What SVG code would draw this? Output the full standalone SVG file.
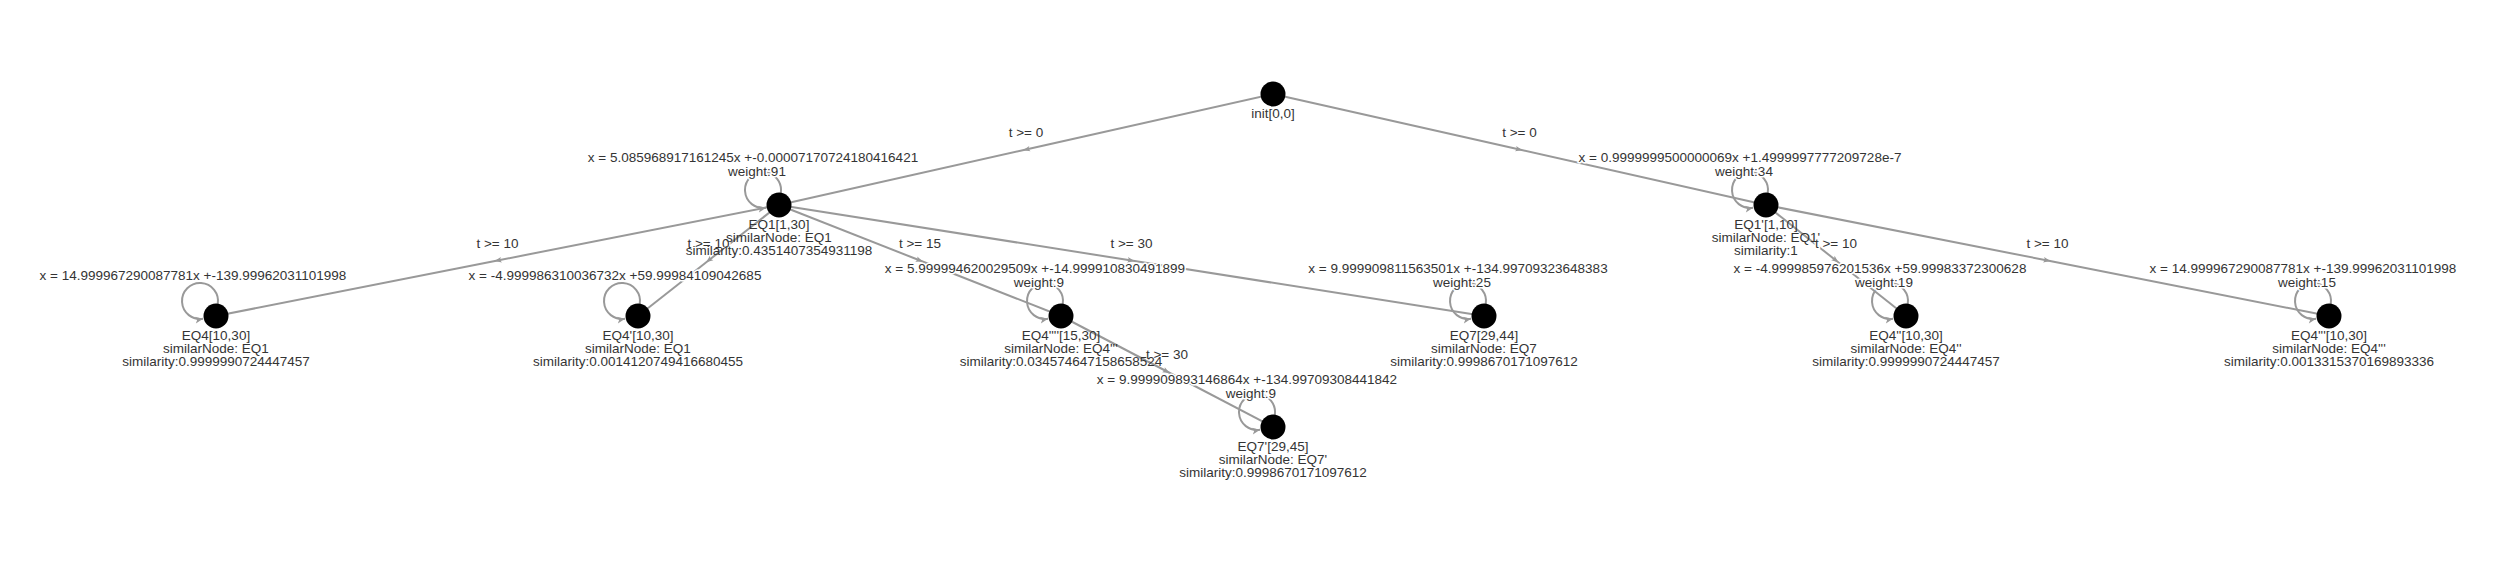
<svg xmlns="http://www.w3.org/2000/svg" width="2500" height="562" viewBox="0 0 2500 562">
<style>
  .bg{fill:#ffffff}
  .edge{fill:none;stroke:#999999;stroke-width:2;marker-mid:url(#mid)}
  .loop{fill:none;stroke:#999999;stroke-width:2;marker-end:url(#arr)}
  .node{fill:#000000}
  text{font-family:"Liberation Sans",Arial,sans-serif;font-size:13.5px;fill:#343434;text-anchor:middle}
  .el{stroke:#ffffff;stroke-width:3;paint-order:stroke;stroke-linejoin:round}
</style>
<defs>
  <marker id="mid" markerUnits="userSpaceOnUse" viewBox="-6 -5 12 10" markerWidth="12" markerHeight="10" refX="0" refY="0" orient="auto">
    <path d="M3,0 L-4,-2.8 L-2.5,0 L-4,2.8 z" fill="#999999"/>
  </marker>
  <marker id="arr" markerUnits="userSpaceOnUse" viewBox="-10 -5 12 10" markerWidth="12" markerHeight="10" refX="0" refY="0" orient="auto">
    <path d="M0,0 L-8,-3.5 L-6,0 L-8,3.5 z" fill="#999999"/>
  </marker>
</defs>
<rect class="bg" x="0" y="0" width="2500" height="562"/>
<g id="connectors">
  <path class="edge" d="M1273,94 L1026,149.5 L779,205"/>
  <path class="edge" d="M1273,94 L1519.5,149.5 L1766,205"/>
  <path class="edge" d="M779,205 L497.5,260.5 L216,316"/>
  <path class="edge" d="M779,205 L708.5,260.5 L638,316"/>
  <path class="edge" d="M779,205 L920,260.5 L1061,316"/>
  <path class="edge" d="M779,205 L1131.5,260.5 L1484,316"/>
  <path class="edge" d="M1061,316 L1167,371.5 L1273,427"/>
  <path class="edge" d="M1766,205 L1836,260.5 L1906,316"/>
  <path class="edge" d="M1766,205 L2047.5,260.5 L2329,316"/>
  <text class="el" x="1026" y="136.5">t &gt;= 0</text>
  <text class="el" x="1519.5" y="136.5">t &gt;= 0</text>
  <text class="el" x="497.5" y="247.5">t &gt;= 10</text>
  <text class="el" x="708.5" y="247.5">t &gt;= 10</text>
  <text class="el" x="920" y="247.5">t &gt;= 15</text>
  <text class="el" x="1131.5" y="247.5">t &gt;= 30</text>
  <text class="el" x="1167" y="358.5">t &gt;= 30</text>
  <text class="el" x="1836" y="247.5">t &gt;= 10</text>
  <text class="el" x="2047.5" y="247.5">t &gt;= 10</text>

  <path class="loop" d="M780.73,193.13 A18,18 0 1 0 766.13,207.73"/>
  <path class="loop" d="M1767.73,193.13 A18,18 0 1 0 1753.13,207.73"/>
  <path class="loop" d="M217.73,304.13 A18,18 0 1 0 203.13,318.73"/>
  <path class="loop" d="M639.73,304.13 A18,18 0 1 0 625.13,318.73"/>
  <path class="loop" d="M1062.73,304.13 A18,18 0 1 0 1048.13,318.73"/>
  <path class="loop" d="M1485.73,304.13 A18,18 0 1 0 1471.13,318.73"/>
  <path class="loop" d="M1907.73,304.13 A18,18 0 1 0 1893.13,318.73"/>
  <path class="loop" d="M2330.73,304.13 A18,18 0 1 0 2316.13,318.73"/>
  <path class="loop" d="M1274.73,415.13 A18,18 0 1 0 1260.13,429.73"/>

  <text class="el" x="753" y="161.5">x = 5.085968917161245x +-0.00007170724180416421</text>
  <text class="el" x="757" y="175.5">weight:91</text>
  <text class="el" x="1740" y="161.5">x = 0.9999999500000069x +1.4999997777209728e-7</text>
  <text class="el" x="1744" y="175.5">weight:34</text>
  <text class="el" x="193" y="280">x = 14.999967290087781x +-139.99962031101998</text>
  <text class="el" x="615" y="280">x = -4.999986310036732x +59.99984109042685</text>
  <text class="el" x="1035" y="272.5">x = 5.999994620029509x +-14.999910830491899</text>
  <text class="el" x="1039" y="286.5">weight:9</text>
  <text class="el" x="1458" y="272.5">x = 9.999909811563501x +-134.99709323648383</text>
  <text class="el" x="1462" y="286.5">weight:25</text>
  <text class="el" x="1880" y="272.5">x = -4.999985976201536x +59.99983372300628</text>
  <text class="el" x="1884" y="286.5">weight:19</text>
  <text class="el" x="2303" y="272.5">x = 14.999967290087781x +-139.99962031101998</text>
  <text class="el" x="2307" y="286.5">weight:15</text>
  <text class="el" x="1247" y="383.5">x = 9.999909893146864x +-134.99709308441842</text>
  <text class="el" x="1251" y="397.5">weight:9</text>
</g>
<g id="init">
  <circle class="node" cx="1273" cy="94" r="12.5"/>
  <text x="1273" y="118">init[0,0]</text>
</g>
<g id="EQ1">
  <circle class="node" cx="779" cy="205" r="12.5"/>
  <text x="779" y="229">EQ1[1,30]</text>
  <text x="779" y="242">similarNode: EQ1</text>
  <text x="779" y="255">similarity:0.4351407354931198</text>
</g>
<g id="EQ1p">
  <circle class="node" cx="1766" cy="205" r="12.5"/>
  <text x="1766" y="229">EQ1'[1,10]</text>
  <text x="1766" y="242">similarNode: EQ1'</text>
  <text x="1766" y="255">similarity:1</text>
</g>
<g id="EQ4">
  <circle class="node" cx="216" cy="316" r="12.5"/>
  <text x="216" y="340">EQ4[10,30]</text>
  <text x="216" y="353">similarNode: EQ1</text>
  <text x="216" y="366">similarity:0.9999990724447457</text>
</g>
<g id="EQ4p">
  <circle class="node" cx="638" cy="316" r="12.5"/>
  <text x="638" y="340">EQ4'[10,30]</text>
  <text x="638" y="353">similarNode: EQ1</text>
  <text x="638" y="366">similarity:0.0014120749416680455</text>
</g>
<g id="EQ4pppp">
  <circle class="node" cx="1061" cy="316" r="12.5"/>
  <text x="1061" y="340">EQ4''''[15,30]</text>
  <text x="1061" y="353">similarNode: EQ4'''</text>
  <text x="1061" y="366">similarity:0.034574647158658524</text>
</g>
<g id="EQ7">
  <circle class="node" cx="1484" cy="316" r="12.5"/>
  <text x="1484" y="340">EQ7[29,44]</text>
  <text x="1484" y="353">similarNode: EQ7</text>
  <text x="1484" y="366">similarity:0.9998670171097612</text>
</g>
<g id="EQ4pp">
  <circle class="node" cx="1906" cy="316" r="12.5"/>
  <text x="1906" y="340">EQ4''[10,30]</text>
  <text x="1906" y="353">similarNode: EQ4''</text>
  <text x="1906" y="366">similarity:0.9999990724447457</text>
</g>
<g id="EQ4ppp">
  <circle class="node" cx="2329" cy="316" r="12.5"/>
  <text x="2329" y="340">EQ4'''[10,30]</text>
  <text x="2329" y="353">similarNode: EQ4'''</text>
  <text x="2329" y="366">similarity:0.0013315370169893336</text>
</g>
<g id="EQ7p">
  <circle class="node" cx="1273" cy="427" r="12.5"/>
  <text x="1273" y="451">EQ7'[29,45]</text>
  <text x="1273" y="464">similarNode: EQ7'</text>
  <text x="1273" y="477">similarity:0.9998670171097612</text>
</g>
</svg>
